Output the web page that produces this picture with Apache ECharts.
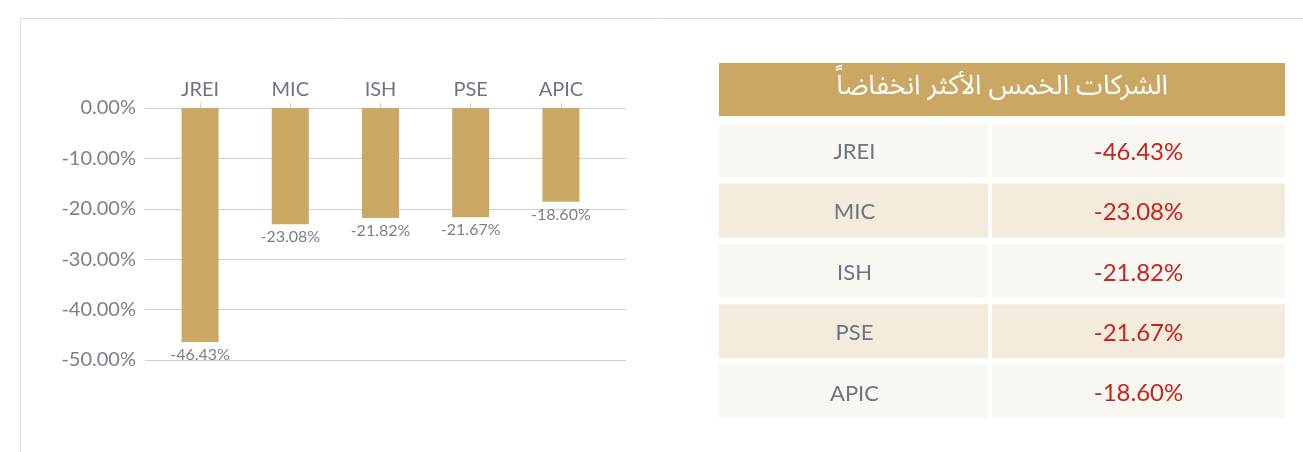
<!DOCTYPE html>
<html>
<head>
<meta charset="UTF-8">
<title>الشركات الخمس الأكثر انخفاضاً</title>
<script src="https://cdn.jsdelivr.net/npm/echarts@6/dist/echarts.min.js"></script>
<style>
  html, body { margin: 0; padding: 0; background: #fff; }
  #main { width: 1303px; height: 452px; }
</style>
</head>
<body>
<div id="main"></div>
<script type="text/javascript">
// data
var companies = ['JREI', 'MIC', 'ISH', 'PSE', 'APIC'];
var changes = [-46.43, -23.08, -21.82, -21.67, -18.60];
var yTicks = [0, -10, -20, -30, -40, -50];
var tableTitle = 'الشركات الخمس الأكثر انخفاضاً';

var gold = '#CAA864';
var grayText = '#6f7482';
var latin = 'Lato, "Open Sans", sans-serif';

function pct(v) { return v.toFixed(2) + '%'; }

// table drawn as graphic elements
function buildTable() {
    var els = [];
    // outer panel border
    els.push({ type: 'rect', shape: { x: 20.5, y: 18.5, width: 1320, height: 460 },
        style: { fill: 'none', stroke: '#dcdcdc', lineWidth: 1 }, silent: true });
    var x0 = 719, w = 566, leftW = 269, gap = 4;
    els.push({ type: 'rect', shape: { x: x0, y: 63, width: w, height: 53 }, style: { fill: gold } });
    els.push({ type: 'text', x: x0 + w / 2, y: 90,
        style: { text: tableTitle, fill: '#ffffff', fontSize: 27,
            fontFamily: '"Noto Sans Arabic", "DejaVu Sans", sans-serif',
            align: 'center', verticalAlign: 'middle' } });
    for (var i = 0; i < companies.length; i++) {
        var y = 123 + i * 60.4;
        var fill = i % 2 === 0 ? '#F8F7F2' : '#F3EBDC';
        els.push({ type: 'rect', shape: { x: x0, y: y, width: leftW, height: 54 }, style: { fill: fill } });
        els.push({ type: 'rect', shape: { x: x0 + leftW + gap, y: y, width: w - leftW - gap, height: 54 }, style: { fill: fill } });
        els.push({ type: 'text', x: x0 + leftW / 2 + 1, y: y + 29,
            style: { text: companies[i], fill: grayText, fontSize: 22, fontFamily: latin,
                align: 'center', verticalAlign: 'middle' } });
        els.push({ type: 'text', x: x0 + leftW + gap + (w - leftW - gap) / 2, y: y + 29,
            style: { text: pct(changes[i]), fill: '#C8231C', fontSize: 24, fontFamily: latin,
                align: 'center', verticalAlign: 'middle' } });
    }
    return els;
}

var myChart = echarts.init(document.getElementById('main'));

var option = {
    animation: false,
    textStyle: { fontFamily: latin },
    grid: [
        { left: 145, right: 677, top: 108, height: 252 },
        { left: 155, right: 697, top: 108, height: 252 }
    ],
    xAxis: [
        { gridIndex: 0, type: 'category', data: companies, show: false },
        {
            gridIndex: 1, type: 'category', data: companies, position: 'top',
            axisLine: { show: false },
            axisTick: { show: true, alignWithLabel: true, length: 5, lineStyle: { color: '#cccccc' } },
            axisLabel: { fontSize: 20, color: grayText, margin: 8 }
        }
    ],
    yAxis: [
        {
            gridIndex: 0, type: 'value', min: yTicks[yTicks.length - 1], max: yTicks[0], interval: 10,
            axisLine: { show: false }, axisTick: { show: false },
            axisLabel: { fontSize: 20, color: '#7b7f8b', margin: 9, formatter: function (v) { return pct(v); } },
            splitLine: { lineStyle: { color: '#cfcfcf' } }
        },
        { gridIndex: 1, type: 'value', min: -50, max: 0, show: false }
    ],
    series: [
        {
            type: 'bar', xAxisIndex: 1, yAxisIndex: 1,
            data: changes, barWidth: 37,
            itemStyle: { color: gold },
            label: {
                show: true, position: 'bottom', distance: 5,
                fontSize: 16, color: '#7b7f8b',
                formatter: function (p) { return pct(p.value); }
            }
        }
    ],
    graphic: buildTable()
};

myChart.setOption(option);
</script>
</body>
</html>
